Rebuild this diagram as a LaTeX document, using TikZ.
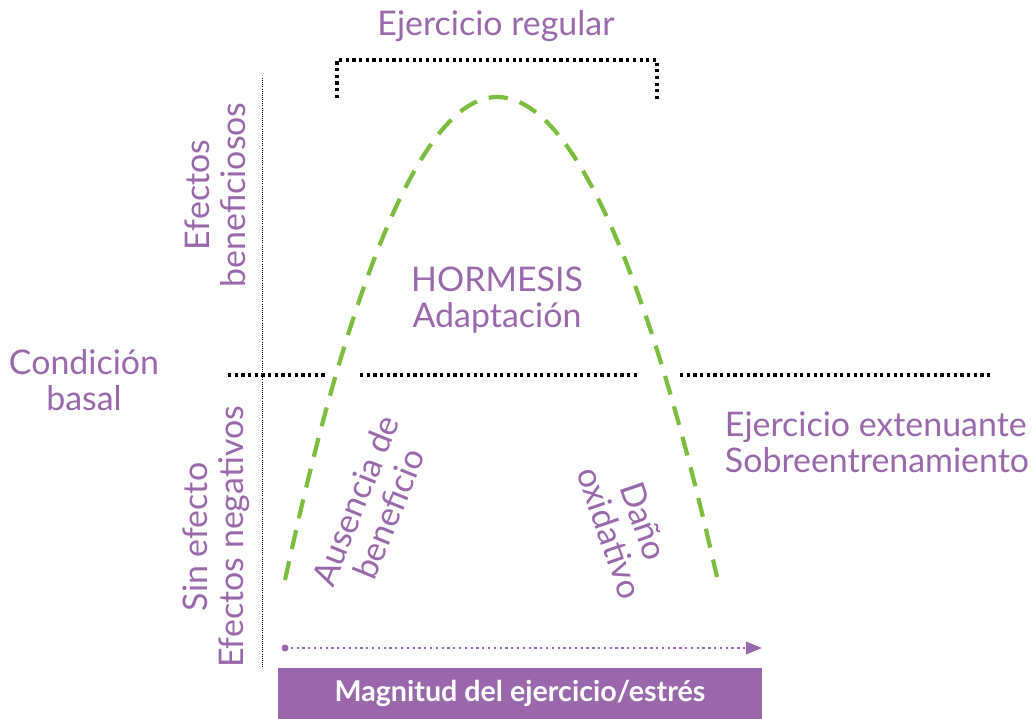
\documentclass[tikz,border=0pt]{standalone}
\usepackage{fontspec}
\setmainfont{Lato}
\usepackage{tikz}
\usetikzlibrary{positioning,arrows.meta}
\usepackage{xcolor}
\definecolor{lila}{RGB}{155,103,172}
\definecolor{verde}{RGB}{122,190,62}

\begin{document}
\begin{tikzpicture}[x=0.02cm,y=-0.02cm,
  lbl/.style={text=lila,font=\fontsize{19.3}{20.5}\selectfont,align=center,inner sep=0pt}]
\useasboundingbox (0,0) rectangle (1035,719);
% ejes punteados
\coordinate (ytop) at (262,78);
\coordinate (ybot) at (262,668);
\draw[densely dotted,very thin] (ytop)--(ybot);
\coordinate (b1) at (228,375);
\coordinate (b2) at (328,375);
\coordinate (b3) at (360,375);
\coordinate (b4) at (640,375);
\coordinate (b5) at (680,375);
\coordinate (b6) at (992,375);
\draw[dotted,line width=1.8pt] (b1)--(b2) (b3)--(b4) (b5)--(b6);
% corchete
\coordinate (c1) at (337,98);
\coordinate (c2) at (337,60);
\coordinate (c3) at (657,60);
\coordinate (c4) at (657,100);
\draw[dotted,line width=1.8pt] (c1)--(c2)--(c3)--(c4);
\node[lbl] (regular) at (496,26) {Ejercicio regular};
% curva
\coordinate (ini) at (285,580);
\coordinate (pico) at (497,97);
\coordinate (fin) at (717,577);
\draw[verde,line width=2.4pt,dash pattern=on 11pt off 7pt] (ini) parabola bend (pico) (fin);
% textos
\node[lbl,rotate=90] (benef) at (215,195) {Efectos\\beneficiosos};
\node[lbl,rotate=90] (neg) at (216,537) {Sin efecto\\Efectos negativos};
\node[lbl] (basal) at (84,380) {Condición\\basal};
\node[lbl] (horm) at (497,300) {HORMESIS\\Adaptación};
\node[lbl,align=left] (exten) at (877,442) {Ejercicio extenuante\\Sobreentrenamiento};
\node[lbl,rotate=68] (ausencia) at (372,507) {Ausencia de\\beneficio};
\node[lbl,rotate=-71] (dano) at (627,527) {Daño\\oxidativo};
% flecha y caja
\coordinate (a1) at (285,648);
\coordinate (a2) at (762,648);
\fill[lila] (a1) circle(3.5);
\draw[lila,dotted,line width=1.3pt,-{Triangle[length=9pt,width=7pt]}] (a1)--(a2);
\node[fill=lila,text=white,minimum width=484*0.02cm,minimum height=51*0.02cm,inner sep=0pt,
  font=\fontsize{16.3}{18}\selectfont\bfseries] (magn) at (520,693.5) {Magnitud del ejercicio/estrés};
\end{tikzpicture}
\end{document}
